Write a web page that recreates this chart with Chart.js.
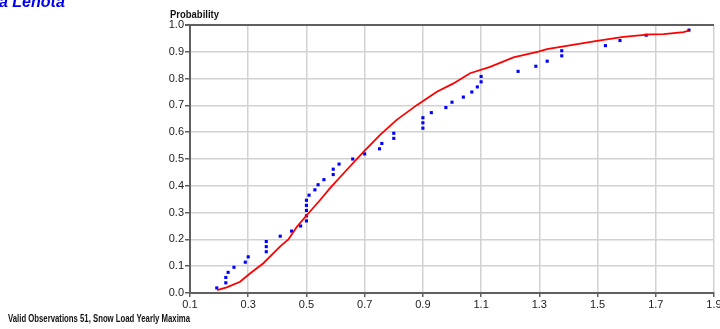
<!DOCTYPE html>
<html>
<head>
<meta charset="utf-8">
<script src="https://cdn.jsdelivr.net/npm/chart.js@4"></script>
<style>
    html, body { margin: 0; padding: 0; background: #fff; }
    #chart { display: block; }
</style>
</head>
<body>
<canvas id="chart" width="720" height="329"></canvas>
<script>
// Observed yearly maxima (snow load) and their plotting positions
const obsX = [0.192, 0.223, 0.223, 0.231, 0.251, 0.290, 0.300, 0.362, 0.362, 0.362,
              0.410, 0.449, 0.480, 0.500, 0.500, 0.500, 0.500, 0.500, 0.509, 0.529,
              0.540, 0.560, 0.592, 0.592, 0.612, 0.659, 0.700, 0.751, 0.759, 0.800,
              0.800, 0.900, 0.900, 0.900, 0.929, 0.979, 1.000, 1.039, 1.068, 1.087,
              1.100, 1.100, 1.227, 1.288, 1.327, 1.377, 1.377, 1.527, 1.577, 1.667,
              1.814];
const obsP = [0.019, 0.038, 0.058, 0.077, 0.096, 0.115, 0.135, 0.154, 0.173, 0.192,
              0.212, 0.231, 0.250, 0.269, 0.288, 0.308, 0.327, 0.346, 0.365, 0.385,
              0.404, 0.423, 0.442, 0.462, 0.481, 0.500, 0.519, 0.538, 0.558, 0.577,
              0.596, 0.615, 0.635, 0.654, 0.673, 0.692, 0.712, 0.731, 0.750, 0.769,
              0.788, 0.808, 0.827, 0.846, 0.865, 0.885, 0.904, 0.923, 0.942, 0.962,
              0.981];

// Fitted distribution curve
const fitX = [0.193, 0.226, 0.272, 0.306, 0.352, 0.409, 0.438, 0.467, 0.501, 0.547,
              0.581, 0.638, 0.696, 0.753, 0.810, 0.879, 0.948, 1.005, 1.062, 1.131,
              1.211, 1.297, 1.326, 1.498, 1.589, 1.681, 1.727, 1.795, 1.814];
const fitP = [0.011, 0.021, 0.042, 0.073, 0.111, 0.173, 0.200, 0.247, 0.290, 0.347,
              0.391, 0.459, 0.527, 0.590, 0.646, 0.701, 0.751, 0.782, 0.820, 0.844,
              0.879, 0.901, 0.910, 0.941, 0.956, 0.965, 0.966, 0.973, 0.979];

const xTicks = [0.1, 0.3, 0.5, 0.7, 0.9, 1.1, 1.3, 1.5, 1.7, 1.9];
const yTicks = [0.0, 0.1, 0.2, 0.3, 0.4, 0.5, 0.6, 0.7, 0.8, 0.9, 1.0];

const titleText = 'a Lenota';
const yTitle = 'Probability';
const caption = 'Valid Observations 51, Snow Load Yearly Maxima';

const gridColor = '#d2d2d2';
const axisColor = '#606060';
const tickFont = { family: 'Liberation Sans, Arial, sans-serif', size: 11 };

// Extra texts around the plot
const textPlugin = {
    id: 'texts',
    afterDraw(chart) {
        const ctx = chart.ctx;
        ctx.save();
        ctx.fillStyle = '#0000ee';
        ctx.font = 'italic bold 16px Liberation Sans, Arial, sans-serif';
        ctx.textBaseline = 'alphabetic';
        ctx.textAlign = 'left';
        ctx.fillText(titleText, -1, 7);

        ctx.fillStyle = '#111';
        ctx.font = 'bold 10px Liberation Sans, Arial, sans-serif';
        ctx.fillText(yTitle, 170, 18, 49);
        ctx.fillText(caption, 8, 322, 182);
        ctx.restore();
    }
};

const ctx = document.getElementById('chart').getContext('2d');
new Chart(ctx, {
    type: 'scatter',
    data: {
        datasets: [
            {
                type: 'line',
                data: fitX.map((x, i) => ({ x: x, y: fitP[i] })),
                borderColor: '#ff0000',
                borderWidth: 1.8,
                pointRadius: 0,
                tension: 0,
                fill: false
            },
            {
                data: obsX.map((x, i) => ({ x: x, y: obsP[i] })),
                backgroundColor: '#0000ff',
                borderWidth: 0,
                pointStyle: 'rect',
                pointRadius: 2.2
            }
        ]
    },
    options: {
        responsive: false,
        animation: false,
        events: [],
        layout: { padding: { left: 0, top: 25, right: 6, bottom: 0 } },
        plugins: {
            legend: { display: false },
            tooltip: { enabled: false }
        },
        scales: {
            x: {
                type: 'linear',
                min: 0.1,
                max: 1.9,
                afterBuildTicks: (scale) => {
                    scale.ticks = xTicks.map(v => ({ value: v }));
                },
                afterFit: (scale) => {
                    scale.height = 36;
                    scale.paddingLeft = 0;
                    scale.paddingRight = 0;
                },
                grid: {
                    color: gridColor,
                    lineWidth: 1.5,
                    tickColor: axisColor,
                    tickLength: 4
                },
                border: { color: axisColor, width: 2 },
                ticks: {
                    color: '#222',
                    font: tickFont,
                    padding: 1,
                    maxRotation: 0,
                    autoSkip: false,
                    callback: (v) => Number(v).toFixed(1)
                }
            },
            y: {
                type: 'linear',
                min: 0,
                max: 1,
                afterBuildTicks: (scale) => {
                    scale.ticks = yTicks.map(v => ({ value: v }));
                },
                afterFit: (scale) => {
                    scale.width = 190;
                },
                grid: {
                    // top line of the frame is drawn dark like the axes
                    color: (c) => (c.tick && c.tick.value === 1 ? axisColor : gridColor),
                    lineWidth: (c) => (c.tick && c.tick.value === 1 ? 2 : 1.5),
                    tickColor: axisColor,
                    tickLength: 5
                },
                border: { color: axisColor, width: 2 },
                ticks: {
                    color: '#222',
                    font: tickFont,
                    padding: 1,
                    autoSkip: false,
                    callback: (v) => Number(v).toFixed(1)
                }
            }
        }
    },
    plugins: [textPlugin]
});
</script>
</body>
</html>
